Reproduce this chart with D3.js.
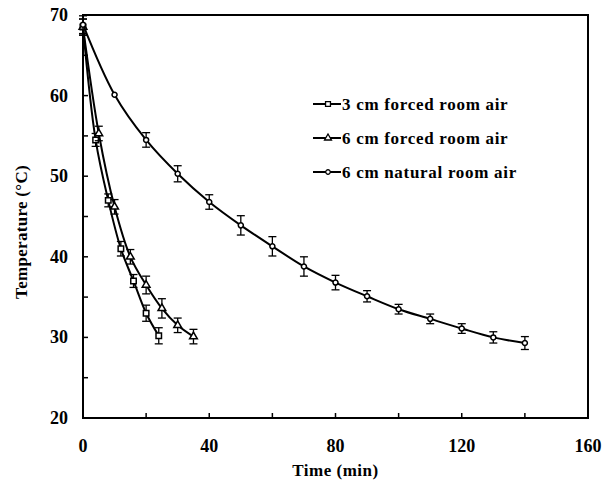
<!DOCTYPE html>
<html>
<head>
<meta charset="utf-8">
<script src="https://cdn.jsdelivr.net/npm/d3@7"></script>
<style>
  html, body { margin: 0; padding: 0; background: #fff; overflow: hidden; }
  svg { display: block; }
  svg text { font-family: "Liberation Serif", "Times New Roman", serif; font-weight: bold; fill: #000; }
</style>
</head>
<body>
<svg width="609" height="484"></svg>
<script>
// data
const time3 = [0, 4, 8, 12, 16, 20, 24]
const temp3 = [68.5, 54.5, 47.0, 41.0, 37.0, 33.0, 30.2]
const err3 = [1.0, 0.8, 0.8, 0.9, 0.8, 1.0, 1.0]

const time6 = [0, 5, 10, 15, 20, 25, 30, 35]
const temp6 = [68.5, 55.3, 46.2, 40.0, 36.5, 33.6, 31.5, 30.1]
const err6 = [1.0, 0.9, 0.9, 0.9, 1.1, 1.2, 0.9, 0.9]

const timeN = [0, 10, 20, 30, 40, 50, 60, 70, 80, 90, 100, 110, 120, 130, 140]
const tempN = [68.8, 60.1, 54.5, 50.3, 46.8, 43.9, 41.3, 38.8, 36.8, 35.1, 33.5, 32.3, 31.1, 30.0, 29.3]
const errN = [1.1, 0.2, 0.9, 1.0, 0.9, 1.2, 1.2, 1.2, 0.9, 0.7, 0.6, 0.6, 0.6, 0.7, 0.8]

const seriesNames = ['3 cm forced room air', '6 cm forced room air', '6 cm natural room air']
const xTicks = [0, 20, 40, 60, 80, 100, 120, 140, 160]
const xLabels = [0, 40, 80, 120, 160]
const yTicks = [20, 25, 30, 35, 40, 45, 50, 55, 60, 65, 70]
const yLabels = [20, 30, 40, 50, 60, 70]

const svg = d3.select('svg')
const margin = { top: 15, right: 21, bottom: 66, left: 83 }
const width = +svg.attr('width')
const height = +svg.attr('height')
const innerWidth = width - margin.left - margin.right
const innerHeight = height - margin.top - margin.bottom

const g = svg.append('g')
  .attr('transform', 'translate(' + margin.left + ',' + margin.top + ')')

const xScale = d3.scaleLinear().domain([0, 160]).range([0, innerWidth])
const yScale = d3.scaleLinear().domain([20, 70]).range([innerHeight, 0])

// frame
g.append('rect')
  .attr('width', innerWidth)
  .attr('height', innerHeight)
  .attr('fill', 'none')
  .attr('stroke', '#000')
  .attr('stroke-width', 2)

// ticks (inward)
g.selectAll('.xt').data(xTicks).join('line')
  .attr('x1', d => xScale(d)).attr('x2', d => xScale(d))
  .attr('y1', innerHeight).attr('y2', innerHeight - 5)
  .attr('stroke', '#000').attr('stroke-width', 1.5)
g.selectAll('.yt').data(yTicks).join('line')
  .attr('y1', d => yScale(d)).attr('y2', d => yScale(d))
  .attr('x1', 0).attr('x2', 5)
  .attr('stroke', '#000').attr('stroke-width', 1.5)

g.selectAll('.xl').data(xLabels).join('text')
  .attr('x', d => xScale(d))
  .attr('y', innerHeight + 34)
  .attr('text-anchor', 'middle')
  .attr('font-size', 18)
  .text(d => d)
g.selectAll('.yl').data(yLabels).join('text')
  .attr('x', -15)
  .attr('y', d => yScale(d) + 6)
  .attr('text-anchor', 'end')
  .attr('font-size', 18)
  .text(d => d)

svg.append('text')
  .attr('x', margin.left + innerWidth / 2)
  .attr('y', 476)
  .attr('text-anchor', 'middle')
  .attr('font-size', 17)
  .attr('letter-spacing', 0.5)
  .text('Time (min)')
svg.append('text')
  .attr('transform', 'translate(27,232) rotate(-90)')
  .attr('text-anchor', 'middle')
  .attr('font-size', 17)
  .attr('letter-spacing', 0.3)
  .text('Temperature (°C)')

const series = [
  { name: seriesNames[0], t: time3, v: temp3, e: err3, shape: d3.symbolSquare, size: 30 },
  { name: seriesNames[1], t: time6, v: temp6, e: err6, shape: d3.symbolTriangle, size: 26 },
  { name: seriesNames[2], t: timeN, v: tempN, e: errN, shape: d3.symbolCircle, size: 20 }
]

const line = d3.line()
  .x(d => xScale(d.t))
  .y(d => yScale(d.v))
  .curve(d3.curveCatmullRom.alpha(0.5))

series.forEach(s => {
  const pts = s.t.map((t, i) => ({ t: t, v: s.v[i], e: s.e[i] }))
  const sg = g.append('g')

  sg.append('path')
    .datum(pts)
    .attr('d', line)
    .attr('fill', 'none')
    .attr('stroke', '#000')
    .attr('stroke-width', 2)

  const eb = sg.selectAll('.eb').data(pts.filter(d => d.e > 0.3)).join('g')
  eb.append('line')
    .attr('x1', d => xScale(d.t)).attr('x2', d => xScale(d.t))
    .attr('y1', d => yScale(d.v - d.e)).attr('y2', d => yScale(d.v + d.e))
    .attr('stroke', '#000').attr('stroke-width', 1.3)
  eb.selectAll('.cap').data(d => [d.v - d.e, d.v + d.e].map(v => ({ t: d.t, v: v }))).join('line')
    .attr('x1', d => xScale(d.t) - 4).attr('x2', d => xScale(d.t) + 4)
    .attr('y1', d => yScale(d.v)).attr('y2', d => yScale(d.v))
    .attr('stroke', '#000').attr('stroke-width', 1.3)

  sg.selectAll('.m').data(pts).join('path')
    .attr('transform', d => 'translate(' + xScale(d.t) + ',' + yScale(d.v) + ')')
    .attr('d', d3.symbol().type(s.shape).size(s.size))
    .attr('fill', '#fff')
    .attr('stroke', '#000')
    .attr('stroke-width', 1.5)
})

// legend
const legend = svg.append('g').attr('transform', 'translate(313,104)')
series.forEach((s, i) => {
  const lg = legend.append('g').attr('transform', 'translate(0,' + (i * 34) + ')')
  lg.append('line').attr('x1', 0).attr('x2', 28).attr('y1', 0).attr('y2', 0)
    .attr('stroke', '#000').attr('stroke-width', 2)
  lg.append('path')
    .attr('transform', 'translate(15,0)')
    .attr('d', d3.symbol().type(s.shape).size(s.size * 0.8))
    .attr('fill', '#fff').attr('stroke', '#000').attr('stroke-width', 1.3)
  lg.append('text')
    .attr('x', 29).attr('y', 6)
    .attr('font-size', 17)
    .attr('letter-spacing', 0.7)
    .text(s.name)
})
</script>
</body>
</html>
